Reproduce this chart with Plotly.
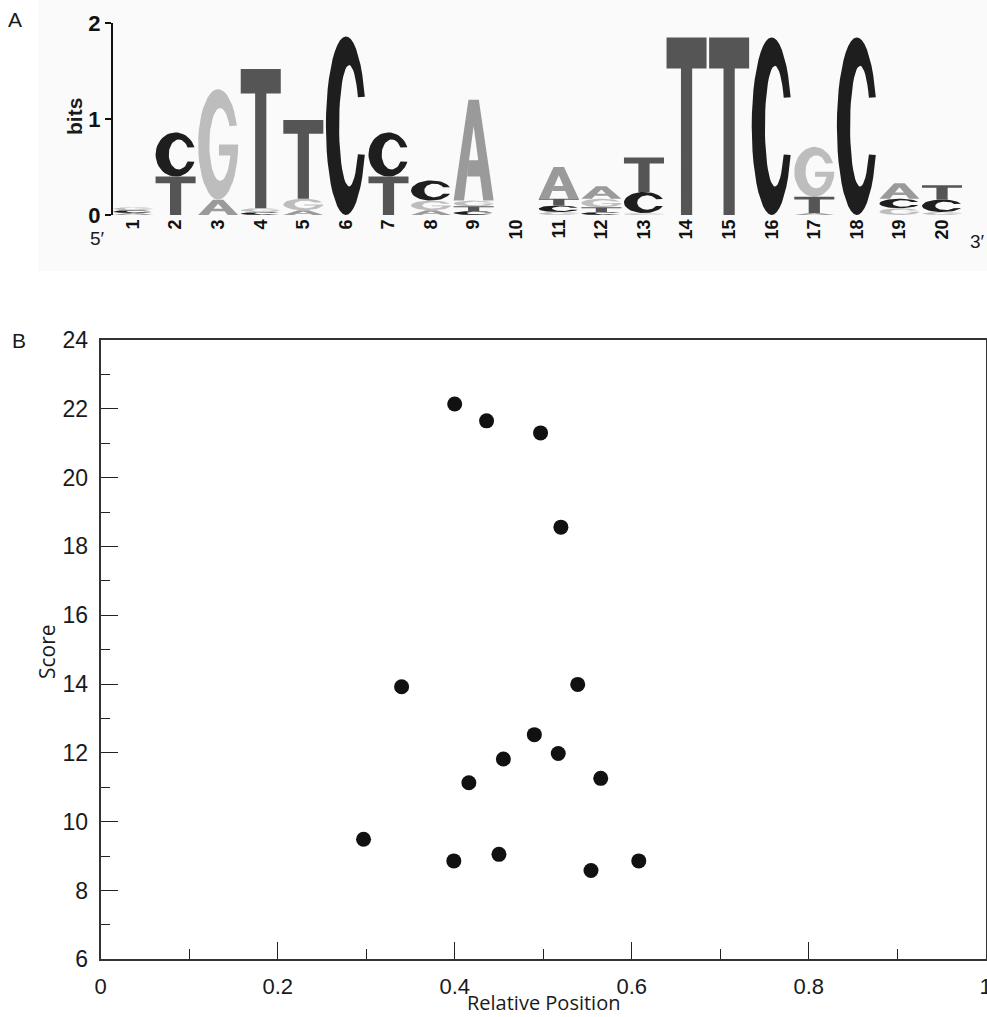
import math
import plotly.graph_objects as go

# ---------------- Panel A: sequence logo data (bits per base) ----------------
positions = list(range(1, 21))
bits_A = [0.02, 0.00, 0.16, 0.00, 0.05, 0.00, 0.00, 0.05, 1.05, 0.00,
          0.33, 0.13, 0.00, 0.00, 0.00, 0.00, 0.02, 0.00, 0.16, 0.00]
bits_C = [0.03, 0.46, 0.00, 0.03, 0.00, 1.86, 0.46, 0.21, 0.04, 0.00,
          0.07, 0.03, 0.22, 0.00, 0.00, 1.85, 0.00, 1.85, 0.10, 0.13]
bits_G = [0.03, 0.00, 1.15, 0.04, 0.12, 0.00, 0.00, 0.10, 0.06, 0.00,
          0.03, 0.09, 0.02, 0.00, 0.00, 0.00, 0.52, 0.00, 0.07, 0.03]
bits_T = [0.00, 0.40, 0.00, 1.45, 0.82, 0.00, 0.40, 0.00, 0.05, 0.00,
          0.07, 0.05, 0.36, 1.85, 1.85, 0.00, 0.17, 0.00, 0.00, 0.15]
logo_yticks = [0, 1, 2]

# ---------------- Panel B: scatter data ----------------
rel_pos = [0.400, 0.436, 0.497, 0.520, 0.340, 0.539, 0.490, 0.455,
           0.517, 0.416, 0.565, 0.297, 0.399, 0.450, 0.554, 0.608]
score = [22.14, 21.65, 21.30, 18.56, 13.92, 13.99, 12.53, 11.82,
         11.98, 11.13, 11.26, 9.49, 8.86, 9.05, 8.58, 8.86]
x_ticks = [0, 0.2, 0.4, 0.6, 0.8, 1]
x_ticktext = ["0", "0.2", "0.4", "0.6", "0.8", "1"]
y_ticks = [6, 8, 10, 12, 14, 16, 18, 20, 22, 24]

base_colors = {"A": "#9a9a9a", "C": "#1e1e1e", "G": "#bdbdbd", "T": "#555555"}


# ---------------- glyph outlines in a unit box ----------------
def arc(cx, cy, rx, ry, a0, a1, n=40):
    pts = []
    for k in range(n + 1):
        a = math.radians(a0 + (a1 - a0) * k / n)
        pts.append((cx + rx * math.cos(a), cy + ry * math.sin(a)))
    return pts


def glyph(letter):
    if letter == "T":
        return [(0, 1), (1, 1), (1, 0.825), (0.64, 0.825), (0.64, 0),
                (0.36, 0), (0.36, 0.825), (0, 0.825)]
    if letter == "A":
        return [(0, 0), (0.37, 1), (0.63, 1), (1, 0), (0.74, 0), (0.66, 0.24),
                (0.34, 0.24), (0.385, 0.40), (0.615, 0.40), (0.5, 0.74),
                (0.385, 0.40), (0.34, 0.24), (0.26, 0)]
    if letter == "C":
        outer = arc(0.5, 0.5, 0.5, 0.5, 19, 341)
        inner = arc(0.58, 0.5, 0.25, 0.34, 332, 28)
        return outer + inner
    if letter == "G":
        outer = arc(0.5, 0.5, 0.5, 0.5, 20, 360)
        bar = [(1.0, 0.5), (0.52, 0.5), (0.52, 0.40)]
        inner = arc(0.55, 0.5, 0.27, 0.33, 342.4, 30)
        return outer + bar + inner
    return []


# ---------------- build stacked letter polygons ----------------
width = 0.94
polys = {b: ([], []) for b in "ACGT"}
for i, p in enumerate(positions):
    stack = [("A", bits_A[i]), ("C", bits_C[i]), ("G", bits_G[i]), ("T", bits_T[i])]
    stack = sorted([s for s in stack if s[1] > 0], key=lambda s: s[1])
    y0 = 0.0
    for letter, h in stack:
        xs, ys = polys[letter]
        for u, v in glyph(letter):
            xs.append(p - width / 2 + u * width)
            ys.append(y0 + v * h)
        xs.append(None)
        ys.append(None)
        y0 += h

fig = go.Figure()
for letter in "ACGT":
    xs, ys = polys[letter]
    fig.add_trace(go.Scatter(
        x=xs, y=ys, mode="lines", fill="toself",
        fillcolor=base_colors[letter], line=dict(width=0, color=base_colors[letter]),
        hoverinfo="skip", xaxis="x", yaxis="y", showlegend=False))

fig.add_trace(go.Scatter(
    x=rel_pos, y=score, mode="markers",
    marker=dict(size=15, color="#111111"),
    xaxis="x2", yaxis="y2", showlegend=False))

W, H = 987, 1017
axis_font = "Liberation Sans, Arial, Helvetica, sans-serif"
title_font = "Open Sans, Liberation Sans, Arial, sans-serif"

fig.update_layout(
    width=W, height=H, autosize=False,
    margin=dict(l=0, r=0, t=0, b=0, pad=0, autoexpand=False),
    paper_bgcolor="white",
    plot_bgcolor="rgba(0,0,0,0)",
    showlegend=False,
    font=dict(family=axis_font, color="#1a1a1a"),
    xaxis=dict(
        domain=[113 / W, 985 / W], range=[0.5303, 21.009],
        tickvals=positions, ticktext=[str(p) for p in positions],
        tickangle=-90, ticks="", showline=False, showgrid=False, zeroline=False,
        tickfont=dict(size=18, family=axis_font, weight="bold", color="#111"),
        anchor="y", fixedrange=True,
    ),
    yaxis=dict(
        domain=[1 - 215 / H, 1 - 23 / H], range=[0, 2],
        tickvals=logo_yticks, ticks="outside", ticklen=6, tickwidth=2, tickcolor="#111",
        showline=True, linecolor="#111", linewidth=2, showgrid=False, zeroline=False,
        tickfont=dict(size=22, family=axis_font, weight="bold", color="#111"),
        anchor="x", fixedrange=True,
    ),
    xaxis2=dict(
        domain=[100.7 / W, 985.7 / W], range=[0, 1],
        tickvals=x_ticks, ticktext=x_ticktext,
        ticks="inside", ticklen=17, tickwidth=1.3, tickcolor="#222",
        minor=dict(ticks="inside", ticklen=10, tickwidth=1.3, tickcolor="#222",
                   tickvals=[0.1, 0.3, 0.5, 0.7, 0.9]),
        showline=True, linecolor="#333", linewidth=2, mirror=True,
        showgrid=False, zeroline=False,
        tickfont=dict(size=22, family=axis_font, color="#1a1a1a"),
        ticklabelstandoff=6, ticklabeloverflow="allow",
        anchor="y2", fixedrange=True,
    ),
    yaxis2=dict(
        domain=[1 - 959.3 / H, 1 - 340 / H], range=[6, 24],
        tickvals=y_ticks,
        ticks="inside", ticklen=17, tickwidth=1.3, tickcolor="#222",
        minor=dict(ticks="inside", ticklen=9, tickwidth=1.3, tickcolor="#222",
                   tickvals=list(range(7, 24, 2))),
        showline=True, linecolor="#333", linewidth=2, mirror=True,
        showgrid=False, zeroline=False,
        tickfont=dict(size=23, family=axis_font, color="#1a1a1a"),
        ticklabelstandoff=6, ticklabeloverflow="allow",
        anchor="x2", fixedrange=True,
    ),
    shapes=[dict(type="rect", xref="paper", yref="paper",
                 x0=38 / W, x1=1, y0=1 - 271 / H, y1=1,
                 fillcolor="#fafafa", line=dict(width=0), layer="below")],
)

annots = [
    dict(text="A", x=15 / W, y=1 - 19 / H, size=21, weight="normal", angle=0, fam=axis_font),
    dict(text="B", x=19 / W, y=1 - 340 / H, size=21, weight="normal", angle=0, fam=axis_font),
    dict(text="bits", x=75 / W, y=1 - 117 / H, size=21, weight="bold", angle=-90, fam=axis_font),
    dict(text="5′", x=97 / W, y=1 - 238 / H, size=19, weight="normal", angle=0, fam=axis_font),
    dict(text="3′", x=977 / W, y=1 - 242 / H, size=19, weight="normal", angle=0, fam=axis_font),
    dict(text="Score", x=47 / W, y=1 - 652 / H, size=21, weight="normal", angle=-90, fam=title_font),
    dict(text="Relative Position", x=543 / W, y=1 - 1002 / H, size=20, weight="normal", angle=0, fam=title_font),
]
for a in annots:
    fig.add_annotation(
        text=a["text"], x=a["x"], y=a["y"], xref="paper", yref="paper",
        xanchor="center", yanchor="middle", showarrow=False, textangle=a["angle"],
        font=dict(size=a["size"], family=a["fam"], weight=a["weight"], color="#1a1a1a"))

fig.write_html(
    "out.html",
    config={"displayModeBar": False, "responsive": False},
    post_script="document.body.style.margin='0';document.body.style.padding='0';"
                "document.body.style.overflow='hidden';",
)
